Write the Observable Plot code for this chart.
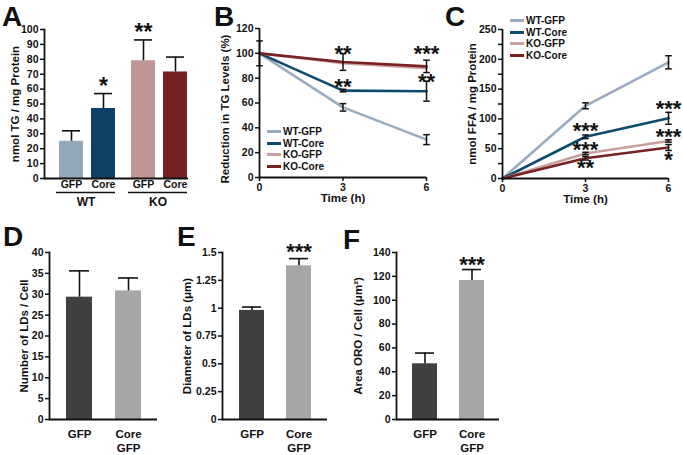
<!DOCTYPE html>
<html><head><meta charset="utf-8">
<script src="https://cdn.jsdelivr.net/npm/d3@7"></script>
<script src="https://cdn.jsdelivr.net/npm/@observablehq/plot@0.6"></script>
<style>
body{margin:0;background:#fff;}
#root{position:relative;width:683px;height:455px;overflow:hidden;background:#fff;font-family:"Liberation Sans",Arial,Helvetica,sans-serif;font-weight:bold;color:#111;}
.letter{position:absolute;font-size:28px;font-weight:bold;line-height:1;}
.legend{position:absolute;font-size:10px;font-weight:bold;line-height:11.5px;}
.legend .row{display:flex;align-items:center;height:11.5px;white-space:nowrap;}
.legend .sw{display:inline-block;width:14px;height:3px;margin-right:2px;}
</style></head>
<body><div id="root"></div>
<script>
// ---------- Panel A data ----------
const aGroups = ["WT", "WT", "KO", "KO"];
const aTreat = ["GFP", "Core", "GFP", "Core"];
const aMean = [25, 47, 79, 71.5];
const aSem = [7, 10, 14, 10];
const aStars = ["", "*", "**", ""];
const aStarY = [null, 66, 102, null];
const aTicks = [0, 10, 20, 30, 40, 50, 60, 70, 80, 90, 100];
const aGroupOrder = ["WT", "KO"];
const aTreatOrder = ["GFP", "Core"];
const aTitle = "nmol TG / mg Protein";

// ---------- Panels B and C ----------
const series = ["WT-GFP", "WT-Core", "KO-GFP", "KO-Core"];
const times = [0, 3, 6];
const timeTitle = "Time (h)";
// B: reduction in TG levels (%)
const bWTGFP = [100, 56.5, 30.5];
const bWTCore = [100, 70, 69.5];
const bKOGFP = [100, 92, 88];
const bKOCore = [100, 93, 89.5];
const bErrWTGFP = [0, 3, 4];
const bErrWTCore = [0, 1, 8];
const bErrKOGFP = [0, 0, 0];
const bErrKOCore = [10, 6.7, 5];
const bTicks = [0, 20, 40, 60, 80, 100, 120];
const bStarX = [3, 3, 6, 6];
const bStarY = [104, 78, 104, 82];
const bStarText = ["**", "**", "***", "**"];
const bTitle = "Reduction in TG Levels (%)";
// C: nmol FFA / mg protein
const cWTGFP = [0, 122, 195];
const cWTCore = [0, 70, 101];
const cKOGFP = [0, 42, 63];
const cKOCore = [0, 34, 52];
const cErrWTGFP = [0, 5, 11];
const cErrWTCore = [0, 3, 10];
const cErrKOGFP = [0, 2, 2];
const cErrKOCore = [0, 3, 5];
const cTicks = [0, 50, 100, 150, 200, 250];
const cMinorTicks = [25, 75, 125, 175, 225];
const cStarX = [3, 3, 3, 6, 6, 6];
const cStarY = [90, 58, 27, 126, 79, 41];
const cStarText = ["***", "***", "**", "***", "***", "*"];
const cTitle = "nmol FFA / mg Protein";

// ---------- Panels D, E, F ----------
const defCats = ["GFP", "Core\nGFP"];
const dMean = [29.3, 30.8];
const dErr = [6.3, 3.1];
const dTicks = [0, 5, 10, 15, 20, 25, 30, 35, 40];
const dTitle = "Number of LDs / Cell";
const eMean = [0.98, 1.38];
const eErr = [0.03, 0.065];
const eTicks = [0, 0.25, 0.5, 0.75, 1, 1.25, 1.5];
const eStars = ["", "***"];
const eStarY = [null, 1.555];
const eTitle = "Diameter of LDs (μm)";
const fMean = [46.7, 116.5];
const fErr = [9, 9.2];
const fTicks = [0, 20, 40, 60, 80, 100, 120, 140];
const fStars = ["", "***"];
const fStarY = [null, 134.5];
const fTitle = "Area ORO / Cell (μm²)";

// ---------- palette ----------
const aColors = ["#93a6ba", "#0c4165", "#c19593", "#76201f"];
const seriesColors = ["#9aabbd", "#0e4a6e", "#c9a09f", "#7a2222"];
const defColors = ["#404040", "#a6a6a6"];
const INK = "#111";

const baseStyle = {fontFamily: '"Liberation Sans", Arial, Helvetica, sans-serif', fontSize: "10.5px", fontWeight: "bold", color: INK, background: "transparent", overflow: "visible"};
const capSymbol = {draw(ctx, size) { const w = Math.sqrt(size / Math.PI); ctx.moveTo(-w, 0); ctx.lineTo(w, 0); }};
const fmt = d => String(d);

const root = document.getElementById("root");
function place(node, left, top) {
  node.style.position = "absolute";
  node.style.left = left + "px";
  node.style.top = top + "px";
  root.appendChild(node);
}
function letter(t, left, top) {
  const d = document.createElement("div");
  d.className = "letter"; d.textContent = t;
  d.style.left = left + "px"; d.style.top = top + "px";
  root.appendChild(d);
}
function legend(left, top) {
  const d = document.createElement("div");
  d.className = "legend";
  d.style.left = left + "px"; d.style.top = top + "px";
  series.forEach((s, i) => {
    const r = document.createElement("div"); r.className = "row";
    const sw = document.createElement("span"); sw.className = "sw"; sw.style.background = seriesColors[i];
    r.appendChild(sw); r.appendChild(document.createTextNode(s));
    d.appendChild(r);
  });
  root.appendChild(d);
}
// rotated y-axis title, left edge placed `offset` px left of the frame
function yTitle(title, offset, extra = {}) {
  return Plot.text([title], {text: d => d, frameAnchor: "left", rotate: -90, lineAnchor: "top", textAnchor: "middle", dx: -offset, fontSize: 11.5, fill: INK, ...extra});
}

// ---------- Panel A ----------
const aData = aTreat.map((t, i) => ({group: aGroups[i], treat: t, mean: aMean[i], sem: aSem[i], color: aColors[i], star: aStars[i], starY: aStarY[i]}));
const plotA = Plot.plot({
  width: 200, height: 215, marginLeft: 43, marginRight: 12, marginTop: 29, marginBottom: 37,
  style: baseStyle,
  fx: {domain: aGroupOrder, padding: 0},
  x: {domain: aTreatOrder, paddingInner: 0.26, paddingOuter: 0.23, align: 0.9},
  y: {domain: [0, 100]},
  color: {type: "identity"},
  marks: [
    Plot.barY(aData, {fx: "group", x: "treat", y: "mean", fill: "color"}),
    Plot.ruleX(aData, {fx: "group", x: "treat", y1: "mean", y2: d => d.mean + d.sem, stroke: INK, strokeWidth: 1.6}),
    Plot.tickY(aData, {fx: "group", x: "treat", y: d => d.mean + d.sem, stroke: INK, strokeWidth: 1.6, insetLeft: 3, insetRight: 3}),
    Plot.text(aData.filter(d => d.star), {fx: "group", x: "treat", y: "starY", text: "star", fontSize: 23, dy: 6, fill: INK}),
    Plot.ruleY([0], {stroke: INK, strokeWidth: 1.8}),
    Plot.ruleY([0], {dy: 14, insetLeft: 12, insetRight: 1, stroke: INK, strokeWidth: 1.4}),
    Plot.frame({anchor: "left", facetAnchor: "left", stroke: INK, strokeWidth: 1.8}),
    Plot.axisY({ticks: aTicks, tickFormat: fmt, tickSize: 4, tickPadding: 2, strokeWidth: 1.5, label: null}),
    Plot.axisX({tickSize: 0, tickPadding: 2, label: null}),
    Plot.axisFx({anchor: "bottom", tickSize: 0, tickPadding: 19, label: null, dx: 5.5, fontSize: 12}),
    yTitle(aTitle, 34, {facetAnchor: "left"})
  ]
});
place(plotA, 0, 0);

// ---------- line panels ----------
function tidy(values, errs) {
  const out = [];
  series.forEach((s, si) => times.forEach((t, ti) => out.push({series: s, time: t, value: values[si][ti], err: errs[si][ti]})));
  return out;
}
function linePanel(o) {
  const data = tidy(o.values, o.errs);
  const eb = data.filter(d => d.err > 0);
  const stars = o.starX.map((x, i) => ({x, y: o.starY[i], t: o.starText[i]}));
  const marks = [
    Plot.line(data, {x: "time", y: "value", z: "series", stroke: "series", strokeWidth: 2.6}),
    Plot.ruleX(eb, {x: "time", y1: d => d.value - d.err, y2: d => d.value + d.err, stroke: INK, strokeWidth: 1.5}),
    Plot.dot(eb, {x: "time", y: d => d.value - d.err, symbol: capSymbol, r: 3.3, stroke: INK, strokeWidth: 1.5, fill: "none"}),
    Plot.dot(eb, {x: "time", y: d => d.value + d.err, symbol: capSymbol, r: 3.3, stroke: INK, strokeWidth: 1.5, fill: "none"}),
    Plot.text(stars, {x: "x", y: "y", text: "t", fontSize: 22, dy: 6, fill: INK}),
    Plot.ruleX([0], {stroke: INK, strokeWidth: 1.8}),
    Plot.ruleY([0], {stroke: INK, strokeWidth: 1.8}),
    Plot.axisY({ticks: o.ticks, tickFormat: fmt, tickSize: 4, tickPadding: 2, strokeWidth: 1.5, label: null}),
    Plot.axisX({ticks: times, tickFormat: fmt, tickSize: 4, tickPadding: 2, strokeWidth: 1.5, label: null}),
    yTitle(o.title, o.labelOffset, {dy: o.titleDy || 0}),
    Plot.text([timeTitle], {text: d => d, frameAnchor: "bottom", lineAnchor: "top", dy: 16, fontSize: 11.5, fill: INK})
  ];
  if (o.minor) marks.push(Plot.axisY({ticks: o.minor, tickSize: 4, strokeWidth: 1.5, tickFormat: () => "", label: null}));
  return Plot.plot({
    width: o.width, height: 215, marginLeft: o.ml, marginRight: o.mr, marginTop: o.mt, marginBottom: o.mb,
    style: baseStyle,
    x: {domain: [0, 6]}, y: {domain: o.domain},
    color: {domain: series, range: seriesColors},
    marks
  });
}
const plotB = linePanel({
  values: [bWTGFP, bWTCore, bKOGFP, bKOCore], errs: [bErrWTGFP, bErrWTCore, bErrKOGFP, bErrKOCore],
  starX: bStarX, starY: bStarY, starText: bStarText, ticks: bTicks, domain: [0, 120],
  title: bTitle, labelOffset: 39, titleDy: 6,
  width: 240, ml: 54, mr: 19, mt: 28, mb: 38
});
place(plotB, 205, 0);
const plotC = linePanel({
  values: [cWTGFP, cWTCore, cKOGFP, cKOCore], errs: [cErrWTGFP, cErrWTCore, cErrKOGFP, cErrKOCore],
  starX: cStarX, starY: cStarY, starText: cStarText, ticks: cTicks, minor: cMinorTicks, domain: [0, 250],
  title: cTitle, labelOffset: 35,
  width: 238, ml: 57, mr: 15, mt: 29, mb: 37
});
place(plotC, 445, 0);
legend(267, 126);
legend(510, 15);

// ---------- bar panels ----------
function barPanel(o) {
  const data = defCats.map((c, i) => ({cat: c, mean: o.means[i], err: o.errs[i], color: defColors[i], star: o.stars ? o.stars[i] : "", starY: o.starY ? o.starY[i] : null}));
  return Plot.plot({
    width: o.width, height: 235, marginLeft: o.ml, marginRight: o.mr, marginTop: 32, marginBottom: 36,
    style: baseStyle,
    x: {domain: defCats, paddingInner: 0.47, paddingOuter: 0.33},
    y: {domain: o.domain},
    color: {type: "identity"},
    marks: [
      Plot.barY(data, {x: "cat", y: "mean", fill: "color"}),
      Plot.ruleX(data, {x: "cat", y1: "mean", y2: d => d.mean + d.err, stroke: INK, strokeWidth: 1.6}),
      Plot.tickY(data, {x: "cat", y: d => d.mean + d.err, stroke: INK, strokeWidth: 1.6, insetLeft: 3, insetRight: 3}),
      Plot.text(data.filter(d => d.star), {x: "cat", y: "starY", text: "star", fontSize: 22, dy: 6, fill: INK}),
      Plot.frame({anchor: "left", stroke: INK, strokeWidth: 1.8}),
      Plot.ruleY([0], {stroke: INK, strokeWidth: 1.8}),
      Plot.axisY({ticks: o.ticks, tickFormat: fmt, tickSize: 4, tickPadding: 2, strokeWidth: 1.5, label: null}),
      Plot.axisX({tickSize: 0, tickPadding: 8, label: null, lineHeight: 1.25, fontSize: 11.5}),
      yTitle(o.title, o.labelOffset)
    ]
  });
}
place(barPanel({means: dMean, errs: dErr, ticks: dTicks, domain: [0, 40], title: dTitle, labelOffset: 30, width: 175, ml: 49, mr: 18}), 0, 220);
place(barPanel({means: eMean, errs: eErr, ticks: eTicks, domain: [0, 1.5], stars: eStars, starY: eStarY, title: eTitle, labelOffset: 40, width: 170, ml: 47, mr: 18}), 175, 220);
place(barPanel({means: fMean, errs: fErr, ticks: fTicks, domain: [0, 140], stars: fStars, starY: fStarY, title: fTitle, labelOffset: 43, width: 175, ml: 51, mr: 21}), 345, 220);

// ---------- panel letters ----------
letter("A", 2, 3);
letter("B", 214, 3);
letter("C", 445, 3);
letter("D", 3, 223);
letter("E", 177, 223);
letter("F", 343, 226);
</script>
</body></html>
